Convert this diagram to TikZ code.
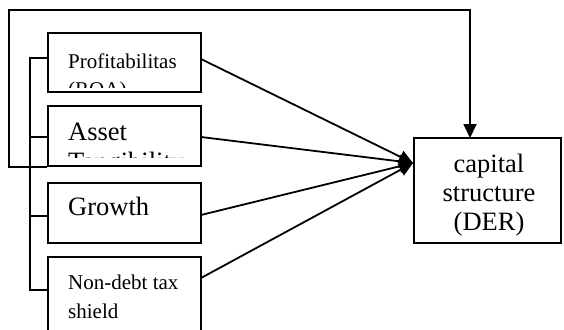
\documentclass[tikz,border=0pt]{standalone}
\usepackage{fontspec}
\setmainfont{Liberation Serif}
\usetikzlibrary{arrows.meta,calc}
\tikzset{
  ln/.style={line width=1.8pt},
  arr/.style={ln, -{Triangle[length=14pt,width=13pt]}},
  box/.style={draw, line width=1.8pt, inner sep=0pt, minimum width=153pt},
  capbox/.style={draw, line width=1.8pt, inner sep=0pt, minimum width=147pt, minimum height=105pt},
  small/.style={font=\fontsize{21}{25}\selectfont, inner sep=0pt, anchor=base west},
  large/.style={font=\fontsize{26.5}{30}\selectfont, inner sep=0pt, anchor=base west},
  largec/.style={font=\fontsize{26.5}{30}\selectfont, inner sep=0pt, anchor=base},
}
\begin{document}
\begin{tikzpicture}[x=1pt,y=-1pt]
\path[use as bounding box] (0,0) rectangle (564,329);
\clip (0,0) rectangle (564,329);

% boxes
\node[box, minimum height=59pt] (p) at (124.5,62.5) {};
\node[box, minimum height=60pt] (a) at (124.5,136) {};
\node[box, minimum height=60pt] (g) at (124.5,213) {};
\node[box, minimum height=86pt] (n) at (124.5,300) {};
\node[capbox] (cap) at (487.5,190.5) {};

% labels
\node[small] (pt) at (68,68) {Profitabilitas};
\begin{scope}
  \clip (50,60) rectangle (199,87);
  \node[small] (pt2) at (68,96.5) {(ROA)};
\end{scope}
\node[large] (at) at (68,140) {Asset};
\begin{scope}
  \clip (50,130) rectangle (199,157);
  \node[large] (at2) at (68,170.5) {Tangibility};
\end{scope}
\node[large] (gt) at (68,215) {Growth};
\node[small] (nt) at (68,289) {Non-debt tax};
\node[small] (nt2) at (68,318) {shield};
\node[largec] (c1) at (489,172) {capital};
\node[largec] (c2) at (489,201) {structure};
\node[largec] (c3) at (489,230) {(DER)};

% connection points
\coordinate (ps) at (48,58);
\coordinate (as) at (48,137);
\coordinate (gs) at (48,216);
\coordinate (ns) at (48,290);
\coordinate (brx) at (30,0);
\coordinate (fb) at (9,10);
\coordinate (capin) at (470,138);
\coordinate (tip) at (413,163);
\coordinate (po) at (201,59);
\coordinate (ao) at (201,137);
\coordinate (go) at (201,215);
\coordinate (no) at (201,278);

% bracket
\draw[ln] (ps) -- (ps -| brx) -- (ns -| brx) -- (ns);
\draw[ln] (as -| brx) -- (as);
\draw[ln] (gs -| brx) -- (gs);

% feedback line
\draw[arr] (a.south west) -| (fb) -| (capin);

% arrows to capital structure
\draw[arr] (po) -- (tip);
\draw[arr] (ao) -- (tip);
\draw[arr] (go) -- (tip);
\draw[arr] (no) -- (tip);
\end{tikzpicture}
\end{document}
